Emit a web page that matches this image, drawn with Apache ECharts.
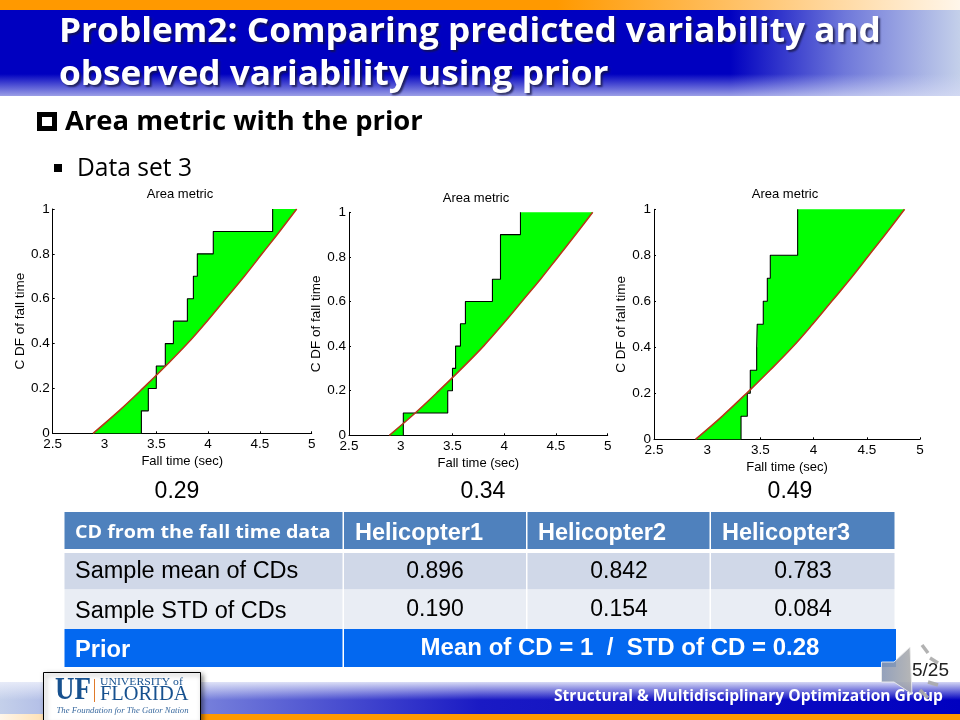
<!DOCTYPE html>
<html>
<head>
<meta charset="utf-8">
<style>html,body{margin:0;padding:0;background:#fff}#c{width:960px;height:720px}</style>
<script src="https://cdn.jsdelivr.net/npm/echarts@6/dist/echarts.min.js"></script>
</head>
<body>
<div id="c"></div>
<script>
// ---- chart values ----
const chartTitle = 'Area metric';
const xAxisName = 'Fall time (sec)';
const yAxisName = 'C DF of fall time';
const predictedX = [2.89, 3.14, 3.37, 3.59, 3.80, 3.99, 4.17, 4.35, 4.52, 4.69, 4.855];
const predictedY = [0, 0.1, 0.2, 0.3, 0.4, 0.5, 0.6, 0.7, 0.8, 0.9, 1];
const stepX1 = [3.356, 3.423, 3.50, 3.587, 3.665, 3.80, 3.858, 3.896, 4.05, 4.623, 4.623];
const stepY1 = [0, 0.1, 0.2, 0.3, 0.4, 0.5, 0.6, 0.7, 0.8, 0.9, 1];
const stepX2 = [3.025, 3.454, 3.50, 3.53, 3.577, 3.625, 3.886, 3.964, 4.157, 4.157];
const stepY2 = [0, 0.1, 0.2, 0.3, 0.4, 0.5, 0.6, 0.7, 0.9, 1];
const stepX3 = [3.318, 3.377, 3.405, 3.465, 3.47, 3.527, 3.565, 3.593, 3.85, 3.85];
const stepY3 = [0, 0.1, 0.2, 0.3, 0.4, 0.5, 0.6, 0.7, 0.8, 1];
const areaValues = ['0.29', '0.34', '0.49'];
// ---- table ----
const tableHeader = ['CD from the fall time data', 'Helicopter1', 'Helicopter2', 'Helicopter3'];
const rowMean = ['Sample mean of CDs', '0.896', '0.842', '0.783'];
const rowStd = ['Sample STD of CDs', '0.190', '0.154', '0.084'];
const rowPrior = ['Prior', 'Mean of CD = 1  /  STD of CD = 0.28'];

const frames = [
  {left: 52.7, top: 209, width: 259, height: 224.3, tx: 180, ty: 194, stepX: stepX1, stepY: stepY1, vx: 177},
  {left: 349, top: 212.3, width: 258.7, height: 223, tx: 476, ty: 198, stepX: stepX2, stepY: stepY2, vx: 483},
  {left: 654, top: 209.3, width: 266, height: 230, tx: 785, ty: 194, stepX: stepX3, stepY: stepY3, vx: 790}
];
const axisFont = '"Liberation Sans",Arial,sans-serif';
const sans = '"Liberation Sans",Arial,sans-serif';
const slideFont = '"Open Sans","Noto Sans",sans-serif';
const serif = '"Liberation Serif",serif';

function pairs(xs, ys) { return xs.map((x, i) => [x, ys[i]]); }
function stepVertices(xs, ys) {
  const out = [];
  xs.forEach((x, i) => {
    out.push([x, ys[i]]);
    if (i < xs.length - 1) out.push([x, ys[i + 1]]);
  });
  return out;
}
function areaVertices(f) {
  return stepVertices(f.stepX, f.stepY).concat(pairs(predictedX, predictedY).reverse());
}

const grid = [], xAxis = [], yAxis = [], series = [], title = [];
frames.forEach((f, i) => {
  grid.push({left: f.left, top: f.top, width: f.width, height: f.height, containLabel: false});
  title.push({text: chartTitle, left: f.tx, top: f.ty, padding: 0, textAlign: 'center', textVerticalAlign: 'middle',
    textStyle: {fontFamily: axisFont, fontSize: 13, fontWeight: 'normal', color: '#000'}});
  const lineS = {show: true, onZero: false, lineStyle: {color: '#000', width: 1}};
  const tick = {show: true, inside: true, length: 2, lineStyle: {color: '#000', width: 1}};
  const lab = {color: '#000', fontFamily: axisFont, fontSize: 13.5};
  xAxis.push({gridIndex: i, type: 'value', min: 2.5, max: 5, interval: 0.5,
    name: xAxisName, nameLocation: 'middle', nameGap: 22,
    nameTextStyle: {fontFamily: axisFont, fontSize: 13, color: '#000'},
    axisLine: lineS, axisTick: tick, splitLine: {show: false},
    axisLabel: Object.assign({margin: 4, showMinLabel: true, showMaxLabel: true}, lab)});
  yAxis.push({gridIndex: i, type: 'value', min: 0, max: 1, interval: 0.2,
    name: yAxisName, nameLocation: 'middle', nameGap: 22,
    nameTextStyle: {fontFamily: axisFont, fontSize: 13.5, color: '#000'},
    axisLine: lineS, axisTick: tick, splitLine: {show: false},
    axisLabel: Object.assign({margin: 3, showMinLabel: true, showMaxLabel: true}, lab)});
  const verts = areaVertices(f);
  series.push({type: 'custom', xAxisIndex: i, yAxisIndex: i, z: 2, silent: true, clip: false,
    data: verts,
    renderItem: (p, api) => p.dataIndex !== 0 ? null : ({
      type: 'polygon',
      shape: {points: verts.map(v => api.coord(v))},
      style: {fill: '#00ff00', stroke: null}
    })});
  series.push({type: 'line', xAxisIndex: i, yAxisIndex: i, z: 3, step: 'start', showSymbol: false, silent: true,
    data: pairs(f.stepX, f.stepY), lineStyle: {color: '#000', width: 1.1}});
  series.push({type: 'line', xAxisIndex: i, yAxisIndex: i, z: 4, smooth: 0.4, showSymbol: false, silent: true,
    data: pairs(predictedX, predictedY), lineStyle: {color: '#b5381a', width: 1.6}});
});

// ---- slide furniture ----
const G = [];
function lin(x2, y2, stops) {
  return {type: 'linear', x: 0, y: 0, x2, y2, colorStops: stops.map(s => ({offset: s[0], color: s[1]}))};
}
function R(x, y, w, h, fill, z) { G.push({type: 'rect', z: z || 0, silent: true, shape: {x, y, width: w, height: h}, style: {fill}}); }
function T(text, x, y, font, fill, align, extra, z, scaleX) {
  G.push({type: 'text', z: z || 5, silent: true, x, y, scaleX: scaleX || 1, scaleY: 1,
    style: Object.assign({text, x: 0, y: 0, font, fill, textAlign: align || 'left', textVerticalAlign: 'middle'}, extra || {})});
}
// header
R(0, 0, 960, 10, lin(1, 0, [[0, '#ff9900'], [0.58, '#ff9900'], [0.8, '#ffc878'], [1, '#fff6ea']]));
R(0, 10, 960, 86, lin(1, 0, [[0, '#0000c0'], [0.76, '#0000c0'], [0.88, '#6f78da'], [1, '#c4d0ea']]));
R(0, 74, 960, 22, lin(0, 1, [[0, 'rgba(210,215,245,0)'], [1, 'rgba(215,220,245,0.72)']]));
const titleShadow = {textShadowColor: 'rgba(20,20,60,0.75)', textShadowBlur: 2, textShadowOffsetX: 2, textShadowOffsetY: 2};
T('Problem2: Comparing predicted variability and', 59, 32, 'bold 34px ' + slideFont, '#fff', 'left', titleShadow, 5, 1.036);
T('observed variability using prior', 59, 75.5, 'bold 34px ' + slideFont, '#fff', 'left', titleShadow, 5, 1.036);
// bullets
R(37, 112, 20, 19, '#000');
R(42, 117, 10, 9, '#fff');
T('Area metric with the prior', 65, 122, 'bold 27.4px ' + slideFont, '#000');
R(54, 164, 8, 8, '#000');
T('Data set 3', 77, 169, '24.6px ' + slideFont, '#000');
frames.forEach((f, i) => T(areaValues[i], f.vx, 491.5, '23px ' + sans, '#000', 'center'));
// table
const colX = [64.5, 344, 527.5, 711, 896];
const rowT = [512, 551, 590, 629, 667];
for (let c = 0; c < 4; c++) {
  const x = colX[c], w = colX[c + 1] - x - 1.5;
  R(x, rowT[0], w, rowT[1] - rowT[0] - 2, '#4f81bd');
  R(x, rowT[1] + 2, w, rowT[2] - rowT[1] - 2.5, '#d0d8e8');
  R(x, rowT[2], w, rowT[3] - rowT[2], '#e9edf4');
}
R(colX[0], rowT[3], colX[1] - colX[0] - 1.5, rowT[4] - rowT[3], '#0368f0');
R(colX[1], rowT[3], colX[4] - colX[1], rowT[4] - rowT[3], '#0368f0');
T(tableHeader[0], 75, 533, 'bold 18.5px ' + slideFont, '#fff', 'left', {}, 5, 1.064);
[355, 538, 722].forEach((x, i) => T(tableHeader[i + 1], x, 534, 'bold 23.5px ' + sans, '#fff'));
T(rowMean[0], 75, 572, '23.5px ' + sans, '#000');
T(rowStd[0], 75, 612, '23.5px ' + sans, '#000');
[435, 619, 803].forEach((x, i) => {
  T(rowMean[i + 1], x, 572, '23px ' + sans, '#000', 'center');
  T(rowStd[i + 1], x, 610, '23px ' + sans, '#000', 'center');
});
T(rowPrior[0], 75, 650, 'bold 23.7px ' + sans, '#fff');
T(rowPrior[1], 620, 648, 'bold 24px ' + sans, '#fff', 'center');
// footer
R(0, 682, 960, 32, lin(1, 0, [[0, '#c4d0ea'], [0.2, '#7a84dc'], [0.5, '#1a1ac4'], [1, '#0000c0']]));
R(0, 682, 960, 18, lin(0, 1, [[0, 'rgba(235,238,250,0.9)'], [1, 'rgba(235,238,250,0)']]));
R(0, 714, 960, 6, lin(1, 0, [[0, '#fff6ea'], [0.2, '#ff9900'], [1, '#ff9900']]));
T('Structural & Multidisciplinary Optimization Group', 554, 697, 'bold 15.6px ' + slideFont, '#fff', 'left', {}, 4);
// logo
G.push({type: 'rect', z: 6, silent: true, shape: {x: 43.5, y: 672.5, width: 157, height: 50},
  style: {fill: '#fff', stroke: '#000', lineWidth: 1, shadowBlur: 5, shadowColor: 'rgba(0,0,0,0.5)', shadowOffsetX: 2, shadowOffsetY: 2}});
T('UF', 55, 691, 'bold 31px ' + serif, '#17518f', 'left', {}, 7, 0.87);
R(94, 679, 1, 23, '#e07a2a', 7);
T('UNIVERSITY of', 100, 682, '10px ' + serif, '#17518f', 'left', {}, 7, 1.17);
T('FLORIDA', 100, 695, '20.4px ' + serif, '#17518f', 'left', {}, 7);
T('The Foundation for The Gator Nation', 56.5, 710.5, 'italic 8.7px ' + serif, '#3a6a9f', 'left', {}, 7);
// page number and speaker
T('5/25', 912, 671, '19px ' + sans, '#222', 'left', {}, 8);
const grey = lin(1, 0, [[0, 'rgba(135,150,180,0.9)'], [1, 'rgba(170,170,170,0.85)']]);
G.push({type: 'polygon', z: 9, silent: true,
  shape: {points: [[881.5, 662], [894, 662], [910, 647], [912, 694], [894, 682], [881.5, 682]]},
  style: {fill: grey, stroke: 'rgba(235,235,235,0.9)', lineWidth: 1}});
[[[922, 645], [928, 653]], [[930, 658], [938, 663]], [[928, 682], [938, 685]], [[920, 690], [928, 698]]].forEach(s => {
  G.push({type: 'line', z: 9, silent: true, shape: {x1: s[0][0], y1: s[0][1], x2: s[1][0], y2: s[1][1]},
    style: {stroke: 'rgba(170,170,170,0.9)', lineWidth: 3.5}});
});

const chart = echarts.init(document.getElementById('c'), null, {renderer: 'canvas', width: 960, height: 720});
chart.setOption({animation: false, backgroundColor: '#fff', title, grid, xAxis, yAxis, series, graphic: {elements: G}});
</script>
</body>
</html>
